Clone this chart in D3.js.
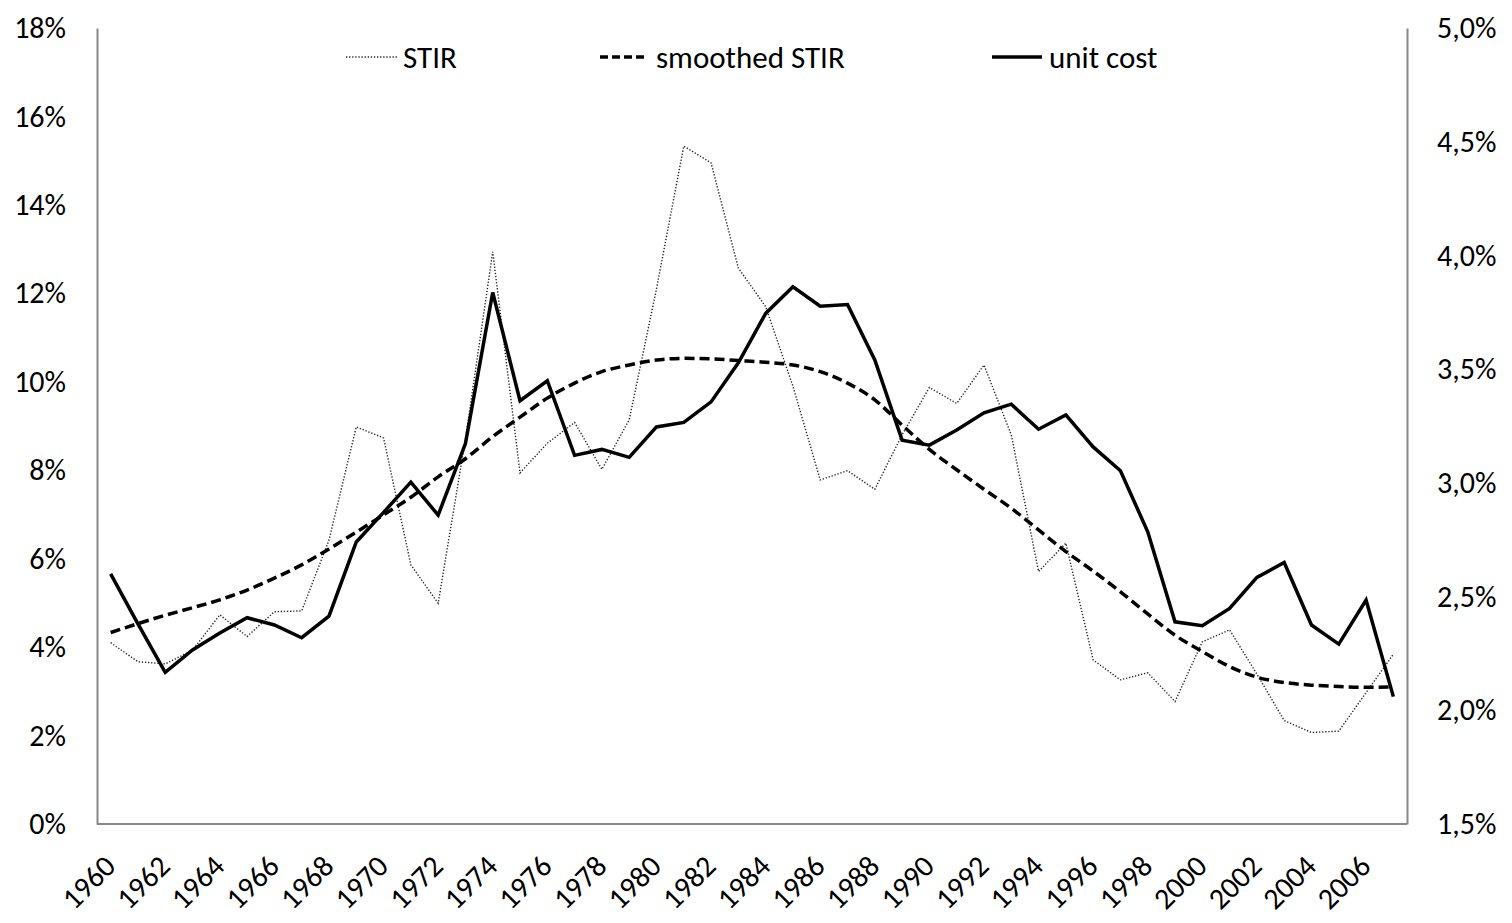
<!DOCTYPE html>
<html>
<head>
<meta charset="utf-8">
<script src="https://cdn.jsdelivr.net/npm/d3@7"></script>
<style>
  body { margin: 0; background: #fff; }
  svg text { font-family: Carlito, Lato, "Open Sans", sans-serif; fill: #000; }
</style>
</head>
<body>
<div id="chart"></div>
<script>
// years on the x axis
const years = d3.range(1960, 2008);

// short term interest rate, % (left axis)
const stir = [4.10, 3.67, 3.62, 3.93, 4.73, 4.24, 4.80, 4.82, 6.42, 8.98,
  8.73, 5.86, 4.99, 8.70, 12.94, 7.94, 8.61, 9.08, 8.02, 9.14,
  12.10, 15.33, 14.95, 12.57, 11.70, 9.90, 7.78, 7.99, 7.57, 8.80,
  9.87, 9.51, 10.38, 8.80, 5.71, 6.35, 3.71, 3.26, 3.42, 2.77,
  4.12, 4.39, 3.39, 2.34, 2.07, 2.10, 2.97, 3.84];

// smoothed STIR, % (left axis)
const smoothed = [4.33, 4.53, 4.72, 4.89, 5.07, 5.29, 5.56, 5.86, 6.22, 6.60,
  6.99, 7.39, 7.85, 8.26, 8.76, 9.20, 9.63, 9.97, 10.23, 10.38,
  10.49, 10.53, 10.52, 10.48, 10.44, 10.38, 10.23, 9.97, 9.59, 9.02,
  8.47, 8.01, 7.57, 7.14, 6.65, 6.16, 5.72, 5.25, 4.75, 4.27,
  3.90, 3.56, 3.32, 3.20, 3.14, 3.11, 3.09, 3.10];

// unit cost, % (right axis)
const unitCost = [2.60, 2.38, 2.167, 2.265, 2.34, 2.407, 2.375, 2.319, 2.414, 2.74,
  2.87, 3.003, 2.858, 3.173, 3.837, 3.361, 3.449, 3.121, 3.147, 3.112,
  3.246, 3.266, 3.356, 3.528, 3.745, 3.862, 3.777, 3.784, 3.540, 3.188,
  3.166, 3.232, 3.308, 3.346, 3.236, 3.299, 3.158, 3.053, 2.785, 2.389,
  2.372, 2.448, 2.584, 2.650, 2.375, 2.291, 2.485, 2.060];

const leftTicks = d3.range(0, 19, 2);
const rightTicks = d3.range(1.5, 5.01, 0.5);

const width = 1512, height = 923;
const margin = { top: 28, right: 105, bottom: 99, left: 97 };

const svg = d3.select("#chart").append("svg")
  .attr("width", width)
  .attr("height", height);

const x = d3.scalePoint()
  .domain(years)
  .range([margin.left, width - margin.right])
  .padding(0.5);

const yLeft = d3.scaleLinear()
  .domain([0, 18])
  .range([height - margin.bottom, margin.top]);

const yRight = d3.scaleLinear()
  .domain([1.5, 5])
  .range([height - margin.bottom, margin.top]);

// axes (no tick marks, grey lines)
const xAxis = svg.append("g")
  .attr("transform", `translate(0,${height - margin.bottom})`)
  .call(d3.axisBottom(x).tickValues(years.filter(d => d % 2 === 0)).tickSize(0).tickPadding(0));
xAxis.select(".domain").attr("stroke", "#888").attr("stroke-width", 2)
  .attr("d", `M${margin.left},0H${width - margin.right}`);
xAxis.selectAll("text")
  .attr("font-size", 30)
  .attr("text-anchor", "end")
  .attr("dy", 0)
  .attr("y", 0)
  .attr("transform", "translate(6,44) rotate(-45)");

const leftAxis = svg.append("g")
  .attr("transform", `translate(${margin.left},0)`)
  .call(d3.axisLeft(yLeft).tickValues(leftTicks).tickSize(0).tickPadding(31)
    .tickFormat(d => d + "%"));
leftAxis.select(".domain").attr("stroke", "#888").attr("stroke-width", 2);
leftAxis.selectAll("text").attr("font-size", 30);

const rightAxis = svg.append("g")
  .attr("transform", `translate(${width - margin.right},0)`)
  .call(d3.axisRight(yRight).tickValues(rightTicks).tickSize(0).tickPadding(30)
    .tickFormat(d => d3.format(".1f")(d).replace(".", ",") + "%"));
rightAxis.select(".domain").attr("stroke", "#888").attr("stroke-width", 2);
rightAxis.selectAll("text").attr("font-size", 30);

// lines
const lineLeft = d3.line()
  .x((d, i) => x(years[i]))
  .y(d => yLeft(d));

const lineRight = d3.line()
  .x((d, i) => x(years[i]))
  .y(d => yRight(d));

svg.append("path")
  .datum(stir)
  .attr("fill", "none")
  .attr("stroke", "#222")
  .attr("stroke-width", 1.4)
  .attr("stroke-dasharray", "1.3,1.8")
  .attr("d", lineLeft);

svg.append("path")
  .datum(smoothed)
  .attr("fill", "none")
  .attr("stroke", "#000")
  .attr("stroke-width", 3.5)
  .attr("stroke-dasharray", "10,5")
  .attr("d", lineLeft.curve(d3.curveMonotoneX));

svg.append("path")
  .datum(unitCost)
  .attr("fill", "none")
  .attr("stroke", "#000")
  .attr("stroke-width", 3.5)
  .attr("stroke-linejoin", "miter")
  .attr("d", lineRight);

// legend
const legendItems = [
  { label: "STIR", x1: 346, x2: 397, tx: 403, width: 1.4, dash: "1.3,1.8", color: "#222" },
  { label: "smoothed STIR", x1: 600, x2: 647, tx: 656, width: 3.5, dash: "8,4", color: "#000" },
  { label: "unit cost", x1: 992, x2: 1042, tx: 1049, width: 3.5, dash: null, color: "#000" }
];
const legend = svg.append("g");
legendItems.forEach(item => {
  legend.append("line")
    .attr("x1", item.x1).attr("x2", item.x2)
    .attr("y1", 57).attr("y2", 57)
    .attr("stroke", item.color)
    .attr("stroke-width", item.width)
    .attr("stroke-dasharray", item.dash);
  legend.append("text")
    .attr("x", item.tx).attr("y", 57)
    .attr("dy", "0.35em")
    .attr("font-size", 31)
    .text(item.label);
});
</script>
</body>
</html>
